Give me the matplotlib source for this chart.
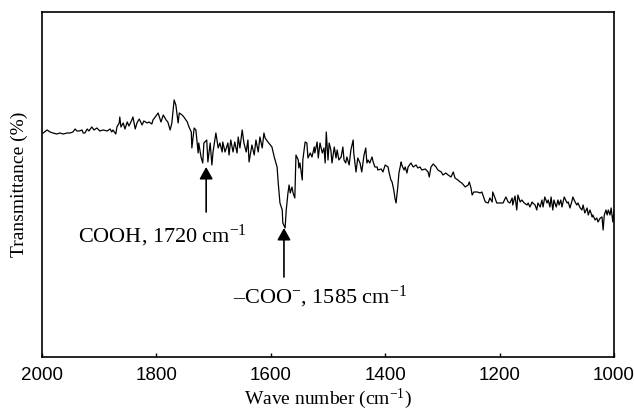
import matplotlib
matplotlib.use("Agg")
import matplotlib.pyplot as plt

plt.rcParams["mathtext.fontset"] = "custom"
plt.rcParams["mathtext.rm"] = "Liberation Serif"
plt.rcParams["mathtext.default"] = "regular"

# FTIR spectrum: wave number (cm-1) and transmittance (arbitrary %)
wavenumber = [
    1998, 1991, 1986, 1981, 1974, 1969, 1963, 1956, 1951, 1946, 1942, 1939, 1935, 1930,
    1928, 1925, 1921, 1918, 1913, 1909, 1904, 1899, 1893, 1886, 1881, 1878, 1876, 1871,
    1869, 1865, 1864, 1862, 1858, 1855, 1851, 1848, 1843, 1841, 1837, 1834, 1830, 1825,
    1822, 1816, 1813, 1808, 1806, 1802, 1797, 1792, 1788, 1783, 1780, 1776, 1773, 1769,
    1766, 1762, 1760, 1755, 1752, 1746, 1743, 1739, 1738, 1734, 1731, 1727, 1726, 1722,
    1719, 1717, 1712, 1710, 1706, 1703, 1701, 1696, 1692, 1689, 1685, 1684, 1680, 1675,
    1673, 1670, 1666, 1663, 1659, 1657, 1654, 1650, 1647, 1643, 1640, 1638, 1633, 1629,
    1626, 1622, 1619, 1615, 1612, 1610, 1605, 1598, 1594, 1589, 1587, 1584, 1580, 1579,
    1575, 1573, 1570, 1568, 1566, 1563, 1561, 1558, 1556, 1552, 1551, 1549, 1545, 1544,
    1540, 1537, 1535, 1531, 1528, 1524, 1523, 1519, 1517, 1514, 1510, 1507, 1505, 1503,
    1500, 1498, 1495, 1493, 1489, 1486, 1484, 1481, 1477, 1474, 1472, 1469, 1467, 1463,
    1460, 1456, 1455, 1451, 1448, 1444, 1441, 1437, 1434, 1432, 1430, 1427, 1423, 1421,
    1418, 1414, 1413, 1407, 1404, 1400, 1395, 1393, 1390, 1388, 1385, 1383, 1381, 1378,
    1376, 1372, 1371, 1367, 1365, 1362, 1360, 1355, 1351, 1346, 1343, 1339, 1336, 1330,
    1325, 1323, 1320, 1316, 1311, 1308, 1302, 1299, 1294, 1290, 1285, 1281, 1278, 1273,
    1269, 1266, 1260, 1255, 1253, 1250, 1248, 1245, 1239, 1234, 1231, 1225, 1220, 1217,
    1213, 1212, 1208, 1205, 1199, 1194, 1189, 1185, 1182, 1178, 1177, 1173, 1170, 1168,
    1164, 1161, 1157, 1152, 1150, 1147, 1143, 1142, 1138, 1135, 1133, 1129, 1126, 1124,
    1121, 1117, 1115, 1112, 1110, 1107, 1105, 1101, 1098, 1096, 1093, 1091, 1087, 1082,
    1080, 1077, 1073, 1072, 1068, 1065, 1063, 1059, 1056, 1054, 1051, 1047, 1045, 1042,
    1038, 1037, 1033, 1030, 1028, 1024, 1021, 1019, 1017, 1014, 1012, 1010, 1007, 1005,
    1002, 1000,
]
transmittance = [
    56.0, 56.75, 56.25, 56.0, 55.75, 56.0, 55.75, 56.0, 56.0, 56.25, 57.0, 56.5, 56.5, 56.75,
    56.0, 56.0, 57.0, 56.5, 57.5, 56.75, 57.25, 56.5, 56.75, 56.5, 57.0, 56.25, 56.75, 55.75,
    57.5, 58.5, 60.0, 57.5, 58.5, 57.0, 58.75, 57.75, 59.25, 60.0, 57.0, 58.5, 59.5, 58.0,
    59.0, 58.5, 58.75, 58.25, 59.25, 60.0, 61.0, 58.75, 60.5, 59.25, 58.75, 56.75, 58.5, 64.25,
    63.0, 58.5, 61.0, 60.5, 60.0, 58.75, 57.5, 56.25, 52.25, 57.25, 56.75, 51.0, 53.5, 50.0,
    48.5, 53.5, 54.25, 48.75, 53.5, 48.0, 51.25, 56.0, 52.25, 53.5, 51.25, 53.75, 51.25, 53.5,
    50.5, 54.25, 51.25, 53.75, 51.0, 55.0, 52.25, 56.75, 53.5, 51.25, 54.25, 48.75, 53.0, 50.5,
    54.25, 51.25, 55.0, 52.25, 56.0, 54.75, 53.75, 52.5, 50.0, 47.5, 43.5, 38.5, 36.75, 33.5,
    32.25, 36.75, 41.0, 43.0, 41.0, 42.5, 41.0, 39.75, 50.5, 49.25, 47.25, 48.5, 44.25, 49.25,
    53.75, 53.5, 49.75, 51.0, 50.0, 52.5, 51.0, 53.75, 49.75, 53.5, 51.0, 52.25, 48.5, 56.25,
    49.25, 53.5, 51.75, 48.5, 52.5, 49.75, 51.75, 49.25, 50.0, 52.5, 49.25, 48.5, 50.0, 48.0,
    51.75, 54.25, 51.0, 46.25, 49.75, 48.5, 46.25, 50.5, 52.25, 48.5, 49.25, 48.5, 50.0, 48.75,
    47.5, 47.5, 46.75, 47.0, 46.25, 48.0, 47.5, 46.0, 44.25, 43.75, 41.75, 39.75, 38.5, 42.5,
    46.0, 48.75, 48.0, 46.75, 47.5, 46.0, 47.5, 48.5, 47.5, 48.0, 47.25, 47.5, 46.75, 47.0,
    46.25, 45.0, 47.5, 48.25, 47.5, 46.75, 46.25, 45.5, 46.0, 45.5, 45.0, 46.25, 44.75, 44.25,
    43.75, 43.5, 42.5, 43.0, 43.75, 42.25, 40.5, 41.25, 41.25, 41.0, 41.25, 38.75, 38.5, 39.75,
    38.75, 41.25, 39.75, 38.5, 38.5, 38.5, 40.0, 38.75, 38.5, 39.75, 38.0, 40.25, 36.75, 40.5,
    38.75, 39.25, 38.5, 38.0, 38.5, 37.5, 38.75, 38.5, 38.0, 36.75, 38.5, 37.5, 39.25, 37.5,
    40.0, 38.5, 39.25, 37.5, 40.0, 36.75, 39.25, 37.5, 39.25, 38.0, 39.25, 37.5, 40.0, 38.5,
    38.75, 37.25, 39.25, 40.0, 38.75, 38.0, 38.5, 37.25, 36.75, 38.0, 36.0, 37.25, 35.5, 36.75,
    35.0, 35.5, 34.25, 34.75, 33.75, 34.75, 35.0, 31.75, 35.5, 36.75, 35.5, 36.75, 35.5, 37.25,
    33.75, 36.75,
]

xticks = [2000, 1800, 1600, 1400, 1200, 1000]

# Band assignments: arrow (x, head, tail) and label anchor (x, baseline)
cooh_label = "COOH, 1720 cm$^{-1}$"
cooh_arrow = (1713, 47.5, 36.25)
cooh_text = (1937, 28.75)
coo_label = "\u2013COO$^{-}$, 1585 cm$^{-1}$"
coo_arrow = (1577, 32.25, 20.0)
coo_text = (1666, 13.5)

fig = plt.figure(figsize=(6.34, 4.15), dpi=100)
ax = fig.add_axes([0.06625, 0.1398, 0.9022, 0.8313])

ax.plot(wavenumber, transmittance, color="black", lw=0.9)

ax.set_xlim(2000, 1000)
ax.set_ylim(0, 86.25)
ax.set_xticks(xticks)
ax.set_xticklabels([str(t) for t in xticks], fontfamily="Liberation Sans", fontsize=13.5)
ax.set_yticks([])
ax.tick_params(axis="x", direction="in", length=3, width=1, pad=7)
for s in ax.spines.values():
    s.set_linewidth(1.2)

ax.set_xlabel("Wave number (cm$^{-1}$)", fontfamily="Liberation Serif", fontsize=14, labelpad=2)
ax.set_ylabel("Transmittance (%)", fontfamily="Liberation Serif", fontsize=14, labelpad=10)

arrow_kw = dict(arrowstyle="-|>,head_length=0.45,head_width=0.25", color="black",
                lw=1.2, mutation_scale=16, shrinkA=0, shrinkB=0)
for (x, head, tail) in (cooh_arrow, coo_arrow):
    ax.annotate("", xy=(x, head), xytext=(x, tail), arrowprops=arrow_kw)

ax.text(cooh_text[0], cooh_text[1], cooh_label, fontfamily="Liberation Serif",
        fontsize=16, ha="left", va="baseline")
ax.text(coo_text[0], coo_text[1], coo_label, fontfamily="Liberation Serif",
        fontsize=16, ha="left", va="baseline")

fig.savefig("out.png", dpi=100)
